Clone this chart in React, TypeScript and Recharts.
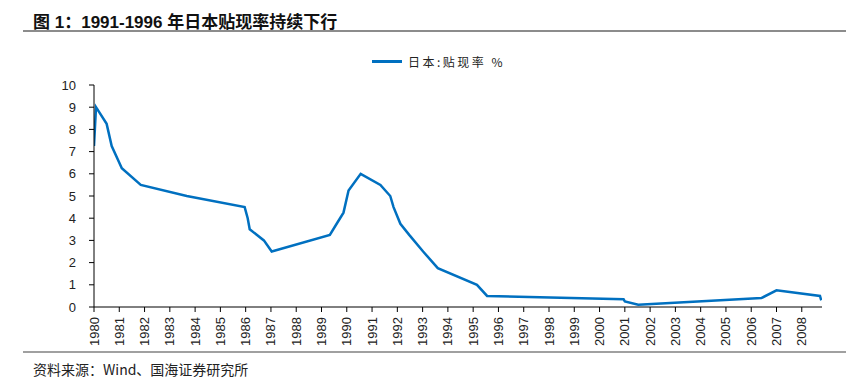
import React from "react";
import { Line, LineChart, XAxis, YAxis } from "recharts";

// 日本贴现率变动节点（年份小数，按图读取）
const dates = [
  1980.0, 1980.08, 1980.5, 1980.7, 1981.1, 1981.85, 1983.67, 1985.96, 1986.08, 1986.16,
  1986.72, 1987.03, 1989.33, 1989.6, 1989.87, 1990.07, 1990.55, 1991.33, 1991.72, 1991.85,
  1992.12, 1992.47, 1993.02, 1993.6, 1995.15, 1995.55, 2000.95, 2001.0, 2001.53, 2006.4,
  2007.0, 2008.72, 2008.77,
];
const rates = [
  7.25, 9.0, 8.25, 7.25, 6.25, 5.5, 5.0, 4.5, 4.0, 3.5,
  3.0, 2.5, 3.25, 3.75, 4.25, 5.25, 6.0, 5.5, 5.0, 4.5,
  3.75, 3.25, 2.5, 1.75, 1.0, 0.5, 0.35, 0.25, 0.1, 0.4,
  0.75, 0.5, 0.3,
];
const yearTicks = Array.from({ length: 29 }, (_, i) => 1980 + i);
const rateTicks = [0, 1, 2, 3, 4, 5, 6, 7, 8, 9, 10];

const data = dates.map((d, i) => ({ t: d, rate: rates[i] }));

const BLUE = "#0070C0";
const FONT = '"Liberation Sans", Arial, "Noto Sans CJK SC", sans-serif';

function YearTick({ x, y, payload }: any) {
  return (
    <text
      transform={`translate(${x + 4.5},${y + 3}) rotate(-90)`}
      textAnchor="end"
      fontSize={13}
      fill="#222"
      fontFamily={FONT}
    >
      {payload.value}
    </text>
  );
}

export default function App() {
  return (
    <div style={{ position: "absolute", left: 0, top: 0, width: 846, height: 385, background: "#fff", fontFamily: FONT }}>
      <div style={{ position: "absolute", left: 33, top: 8, fontSize: 17, fontWeight: "bold", color: "#111", whiteSpace: "nowrap" }}>
        图 1：1991-1996 年日本贴现率持续下行
      </div>
      <div style={{ position: "absolute", left: 23, top: 30, width: 823, height: 2, background: "#8c8c8c" }} />
      <div
        style={{
          position: "absolute",
          left: 372,
          top: 53,
          display: "flex",
          alignItems: "center",
          fontFamily: '"Noto Sans CJK SC", sans-serif',
          fontSize: 12,
          letterSpacing: 2.5,
          color: "#222",
          whiteSpace: "nowrap",
        }}
      >
        <span style={{ display: "inline-block", width: 30, height: 2.5, background: BLUE, marginRight: 6 }} />
        日本:贴现率 %
      </div>
      <LineChart width={846} height={385} data={data} margin={{ top: 85, right: 24, left: 54, bottom: 38 }}>
        <XAxis
          dataKey="t"
          type="number"
          domain={[1980, 2008.8]}
          ticks={yearTicks}
          interval={0}
          allowDataOverflow
          height={40}
          tick={<YearTick />}
          tickSize={5}
          axisLine={{ stroke: "#000", strokeWidth: 1 }}
          tickLine={{ stroke: "#000" }}
        />
        <YAxis
          domain={[0, 10]}
          ticks={rateTicks}
          interval={0}
          width={40}
          tickSize={5}
          tickMargin={13}
          tick={{ fontSize: 13, fill: "#222", fontFamily: FONT }}
          axisLine={{ stroke: "#000", strokeWidth: 1 }}
          tickLine={{ stroke: "#000" }}
        />
        <Line
          type="linear"
          dataKey="rate"
          stroke={BLUE}
          strokeWidth={2.5}
          dot={false}
          isAnimationActive={false}
        />
      </LineChart>
      <div style={{ position: "absolute", left: 23, top: 351, width: 823, height: 2, background: "#a0a0a0" }} />
      <div style={{ position: "absolute", left: 33, top: 359, fontSize: 14, color: "#222", fontFamily: '"Noto Sans CJK SC", sans-serif', whiteSpace: "nowrap" }}>
        资料来源：Wind、国海证券研究所
      </div>
    </div>
  );
}
